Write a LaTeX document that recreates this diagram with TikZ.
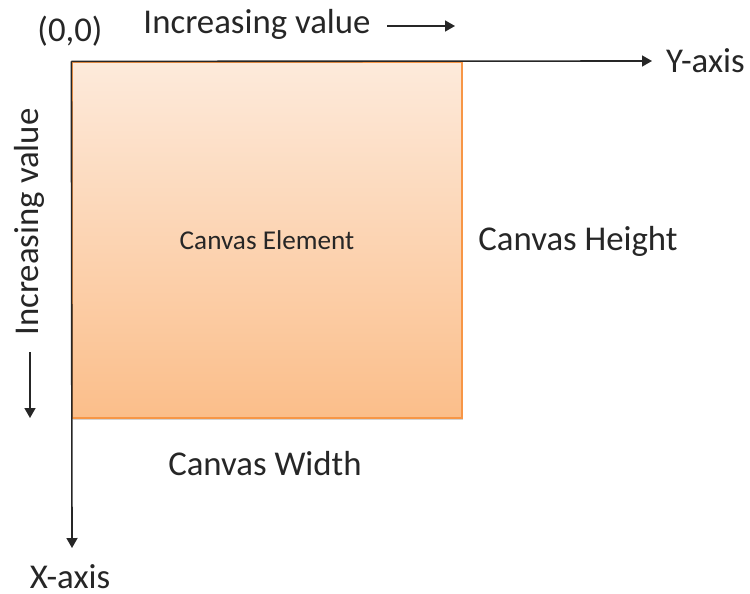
\documentclass[tikz,border=0pt]{standalone}
\usepackage{fontspec}
\setmainfont{Carlito}
\usetikzlibrary{arrows.meta,positioning,shadows}

\definecolor{peachtop}{RGB}{253,234,219}
\definecolor{peachbot}{RGB}{251,190,138}
\definecolor{canvasedge}{RGB}{247,150,70}
\definecolor{inkgray}{RGB}{38,38,38}

\begin{document}
\begin{tikzpicture}[x=0.5pt,y=-0.5pt,font=\fontsize{17.4}{20}\selectfont,
      text=inkgray]
      \tikzset{axis/.style={draw=inkgray,line width=0.8pt,-{Triangle[length=5pt,width=5.5pt]}}}
      \tikzset{canvasbox/.style={rectangle,draw=canvasedge,line width=0.6pt,
          top color=peachtop,bottom color=peachbot,
          minimum width=195pt,minimum height=178pt,inner sep=0pt,
          font=\fontsize{13.6}{16}\selectfont,
          drop shadow={shadow xshift=0.6pt,shadow yshift=-1.2pt,opacity=0.35}}}

      \useasboundingbox (0,0) rectangle (750,594);

      \node[canvasbox] (canvas) at (267,240) {Canvas Element};

      \node (origin) at (70,31) {(0,0)};
      \node (incy) at (257,24) {Increasing value};
      \node (incx) [rotate=90] at (29,222) {Increasing value};
      \node (width) at (265,464) {Canvas Width};
      \node (height) at (578,241) {Canvas Height};
      \node (yaxis) [anchor=west] at (659,61) {Y-axis};
      \node (xaxis) [anchor=base] at (70,588) {X-axis};

      \coordinate (ytip) at (652,61);
      \coordinate (xtip) at (72,548);
      \coordinate (incya) at (387,26);
      \coordinate (incyb) at (455,26);
      \coordinate (incxa) at (30,352);
      \coordinate (incxb) at (30,418);

      \draw[axis] (canvas.north west) -- (ytip);
      \draw[axis] (canvas.north west) -- (xtip);
      \draw[axis] (incya) -- (incyb);
      \draw[axis] (incxa) -- (incxb);
    \end{tikzpicture}
\end{document}
